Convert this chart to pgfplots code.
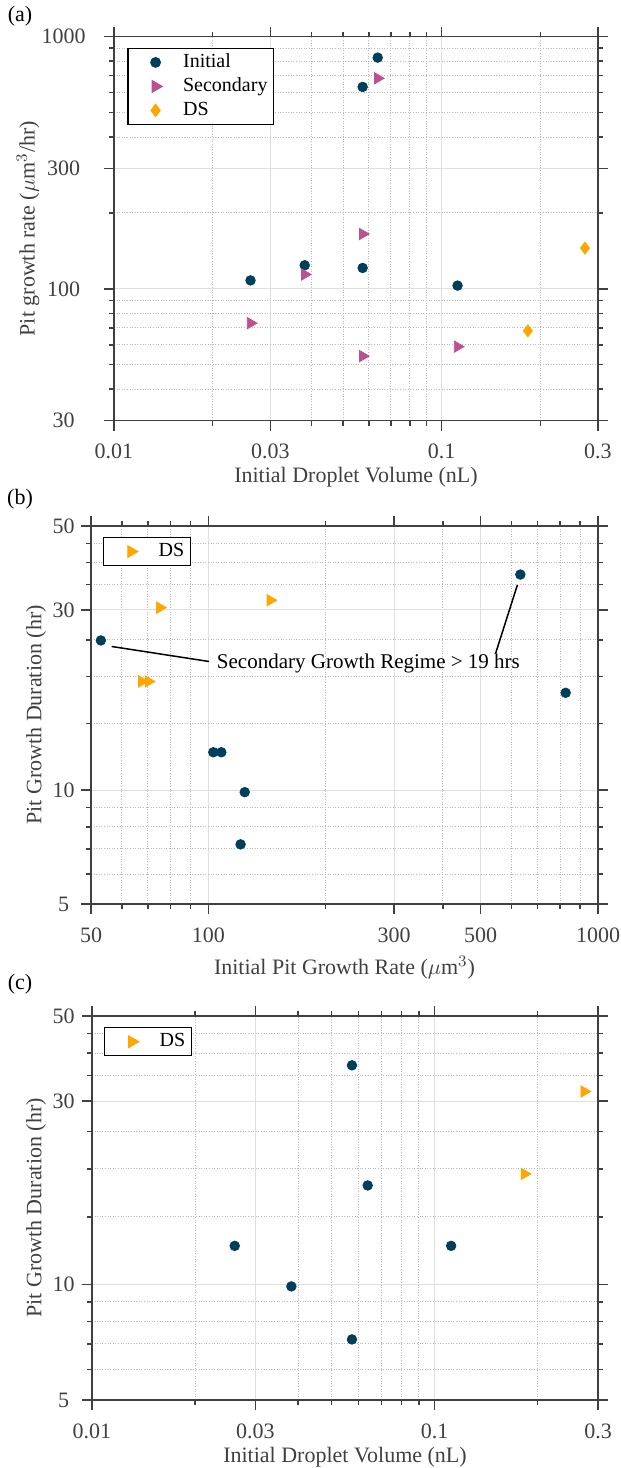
\documentclass[border=0pt]{standalone}
\usepackage{fontspec}
\setmainfont{Liberation Serif}
\usepackage{pgfplots}
\pgfplotsset{compat=1.18}
\definecolor{cInit}{HTML}{003F5C}
\definecolor{cSec}{HTML}{BC5090}
\definecolor{cDS}{HTML}{FFA600}
\definecolor{axc}{HTML}{404040}

\pgfplotsset{
  panel/.style={
    scale only axis,
    tick align=outside,
    major tick length=5pt, minor tick length=2.5pt,
    axis line style={line width=0.75pt, axc},
    every tick/.style={line width=0.75pt, axc},
    grid=both,
    major grid style={line width=0.5pt, gray!25},
    minor grid style={line width=0.5pt, gray!55, dash pattern=on 0.5pt off 0.8pt},
    tick label style={font=\fontsize{11}{13}\selectfont, text=axc},
    xticklabel style={anchor=center, yshift=-10.5pt},
    label style={font=\fontsize{11}{13}\selectfont, text=axc},
    legend style={draw=black, line width=0.6pt, font=\fontsize{10}{12}\selectfont,
      inner xsep=2pt, inner ysep=1pt, column sep=7.5pt, row sep=0pt,
      nodes={inner sep=1pt, text height=7.5pt, text depth=2.5pt, text=black},
      anchor=north west},
    legend cell align=left,
  },
  lgimg/.style={legend image code/.code={
      \path[draw=none, fill=none] (0pt,0pt) -- (17pt,0pt);
      \draw[##1] plot coordinates {(11.75pt,0pt)};}},
  pInit/.style={only marks, mark=*, mark size=2.4pt, color=cInit, lgimg},
  pSec/.style={only marks, mark=triangle*, mark size=3.25pt, color=cSec, mark options={rotate=-90}, lgimg},
  pDSd/.style={only marks, mark=diamond*, mark size=3pt, color=cDS, lgimg},
  pDSt/.style={only marks, mark=triangle*, mark size=3.25pt, color=cDS, mark options={rotate=-90}, lgimg},
}

\begin{document}
\begin{tikzpicture}
% (a)
\begin{loglogaxis}[panel, at={(57pt,523.65pt)}, anchor=south west, width=242pt, height=192pt,
  xmin=0.01, xmax=0.3, ymin=30, ymax=1000,
  xtick={0.01,0.03,0.1,0.3}, xticklabels={0.01,0.03,0.1,0.3},
  minor xtick={0.02,0.04,0.05,0.06,0.07,0.08,0.09,0.2},
  ytick={30,100,300,1000}, yticklabels={30,100,300,1000},
  minor ytick={40,50,60,70,80,90,200,400,500,600,700,800,900},
  yticklabel style={anchor=center, xshift=-20.25pt},
  xlabel={Initial Droplet Volume (nL)}, ylabel={Pit growth rate ($\mu$m$^3$/hr)},
  xlabel style={at={(axis description cs:0.5,-0.1484)}, anchor=center},
  ylabel style={at={(axis description cs:-0.1777,0.5)}, anchor=center},
  legend style={at={(0.0279,0.971)}}]
\addplot[pInit] coordinates {(0.0261,108) (0.0382,124) (0.0574,121) (0.0574,632) (0.0638,826) (0.1118,103)};
\addplot[pSec] coordinates {(0.0261,73.1) (0.0382,114) (0.0574,165) (0.0574,54.1) (0.0638,684) (0.1118,59.0)};
\addplot[pDSd] coordinates {(0.1833,68.2) (0.2738,145)};
\legend{Initial, Secondary, DS}
\end{loglogaxis}
% (b)
\begin{loglogaxis}[panel, at={(45.5pt,282pt)}, anchor=south west, width=253.5pt, height=189pt,
  xmin=50, xmax=1000, ymin=5, ymax=50,
  xtick={50,100,300,500,1000}, xticklabels={50,100,300,500,1000},
  minor xtick={60,70,80,90,200,400,600,700,800,900},
  ytick={5,10,30,50}, yticklabels={5,10,30,50},
  minor ytick={6,7,8,9,15,20,25,35,40,45},
  yticklabel style={anchor=center, xshift=-8.75pt},
  xlabel={Initial Pit Growth Rate ($\mu$m$^3$)}, ylabel={Pit Growth Duration (hr)},
  xlabel style={at={(axis description cs:0.5,-0.1693)}, anchor=center},
  ylabel style={at={(axis description cs:-0.1085,0.5)}, anchor=center},
  legend style={at={(0.0237,0.971)}}]
\addplot[pInit, forget plot] coordinates {(53.0,24.9) (632,37.2) (826,18.1) (103,12.6) (108,12.6) (124,9.88) (121,7.19)};
\addplot[pDSt] coordinates {(75.1,30.4) (144.2,31.8) (67.5,19.4) (70.2,19.4)};
\legend{DS}
\draw[black, line width=0.75pt] (axis cs:56.5,24.0) -- (axis cs:100.5,21.9);
\draw[black, line width=0.75pt] (axis cs:546,23.0) -- (axis cs:621,34.9);
\node[anchor=west, font=\fontsize{10.5}{12}\selectfont, inner sep=0pt] at (axis cs:105,21.6) {Secondary Growth Regime > 19 hrs};
\end{loglogaxis}
% (c)
\begin{loglogaxis}[panel, at={(46pt,34pt)}, anchor=south west, width=253pt, height=192pt,
  xmin=0.01, xmax=0.3, ymin=5, ymax=50,
  xtick={0.01,0.03,0.1,0.3}, xticklabels={0.01,0.03,0.1,0.3},
  minor xtick={0.02,0.04,0.05,0.06,0.07,0.08,0.09,0.2},
  ytick={5,10,30,50}, yticklabels={5,10,30,50},
  minor ytick={6,7,8,9,15,20,25,35,40,45},
  yticklabel style={anchor=center, xshift=-9.25pt},
  xlabel={Initial Droplet Volume (nL)}, ylabel={Pit Growth Duration (hr)},
  xlabel style={at={(axis description cs:0.5,-0.1484)}, anchor=center},
  ylabel style={at={(axis description cs:-0.1107,0.5)}, anchor=center},
  legend style={at={(0.0237,0.971)}}]
\addplot[pInit, forget plot] coordinates {(0.0261,12.6) (0.0382,9.88) (0.0574,37.2) (0.0574,7.19) (0.0638,18.1) (0.1118,12.6)};
\addplot[pDSt] coordinates {(0.1830,19.4) (0.2735,31.8)};
\legend{DS}
\end{loglogaxis}
\node[font=\fontsize{11}{13}\selectfont] at (10pt,726pt) {(a)};
\node[font=\fontsize{11}{13}\selectfont] at (10pt,484.5pt) {(b)};
\node[font=\fontsize{11}{13}\selectfont] at (10pt,242pt) {(c)};
\pgfresetboundingbox
\path[use as bounding box] (0,0) rectangle (310.5pt,734pt);
\end{tikzpicture}
\end{document}
